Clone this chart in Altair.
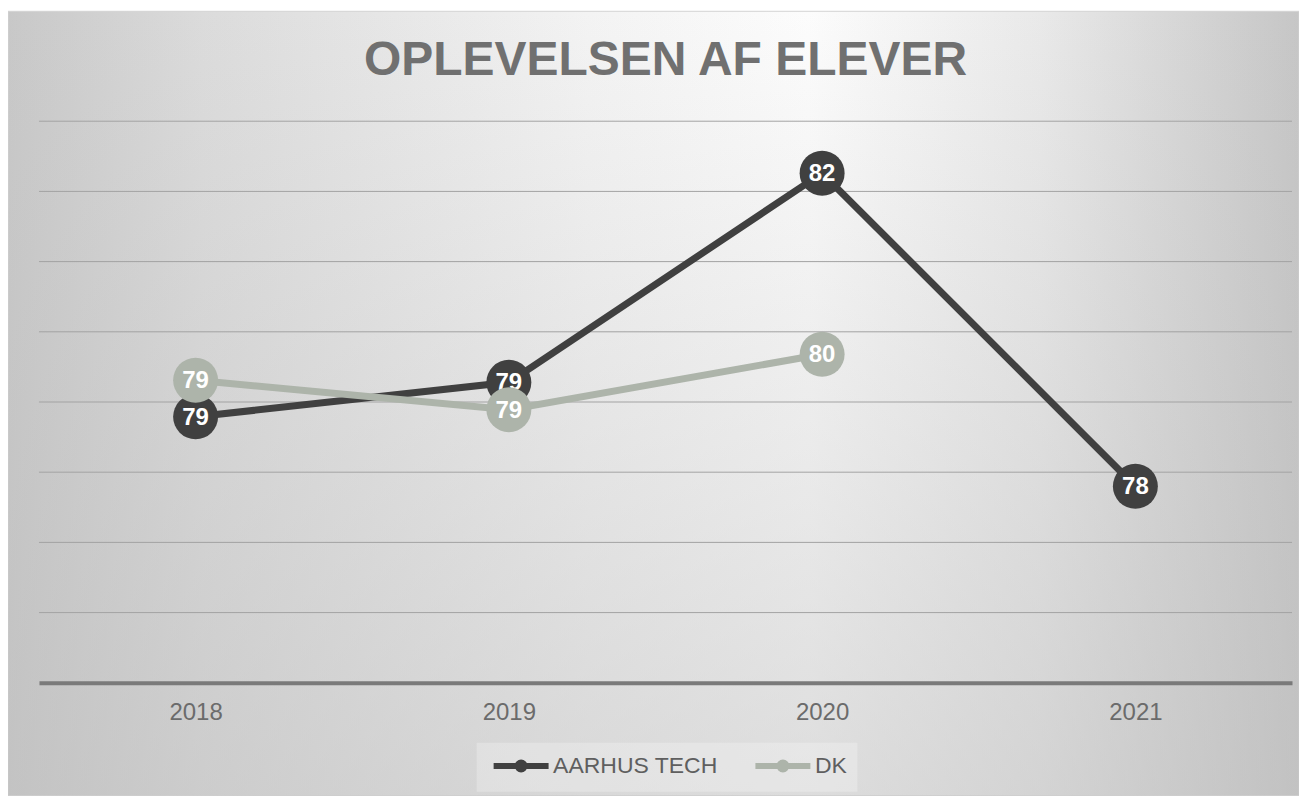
import altair as alt
import pandas as pd

years = ["2018", "2019", "2020", "2021"]
series_names = ["AARHUS TECH", "DK"]
aarhus_values = [78.79, 79.28, 82.26, 77.80]
dk_values = [79.31, 78.89, 79.68, None]
series_colors = ["#404040", "#adb4aa"]
grid_values = [76, 77, 78, 79, 80, 81, 82, 83]

rows = []
for name, vals in zip(series_names, [aarhus_values, dk_values]):
    for yr, v in zip(years, vals):
        if v is not None:
            rows.append({"year": yr, "series": name, "value": v})
df = pd.DataFrame(rows)
grid_df = pd.DataFrame({"g": grid_values})

FONT = "Liberation Sans"

x_enc = alt.X("year:O", scale=alt.Scale(type="point", domain=years, padding=0.5),
              axis=alt.Axis(title=None, labelAngle=0, labelFont=FONT, labelFontSize=24,
                            labelColor="#6b6b6b", ticks=False, tickSize=0, labelPadding=18,
                            domainColor="#7a7a7a", domainWidth=4, grid=False, zindex=1))
y_scale = alt.Scale(domain=[75, 83], nice=False, zero=False)
y_enc = alt.Y("value:Q", scale=y_scale, axis=None)

stroke_scale = alt.Scale(domain=series_names, range=series_colors)

legend_path = "M-2.75,0H2.75M0.35,0A0.35,0.35 0 1 1 -0.35,0A0.35,0.35 0 1 1 0.35,0"

bgdf = pd.DataFrame({"k": [0]})
hgrad = alt.LinearGradient(
    gradient="linear", x1=0, y1=0, x2=1, y2=0,
    stops=[alt.GradientStop(offset=0, color="#c8c8c8"),
           alt.GradientStop(offset=0.15, color="#dbdbdb"),
           alt.GradientStop(offset=0.45, color="#f3f3f3"),
           alt.GradientStop(offset=0.62, color="#fcfcfc"),
           alt.GradientStop(offset=0.8, color="#e9e9e9"),
           alt.GradientStop(offset=1, color="#c6c6c6")])
vgrad = alt.LinearGradient(
    gradient="linear", x1=0, y1=0, x2=0, y2=1,
    stops=[alt.GradientStop(offset=0, color="rgba(190,190,190,0)"),
           alt.GradientStop(offset=1, color="rgba(190,190,190,0.5)")])

bg1 = alt.Chart(bgdf).mark_rect(fill=hgrad, stroke="#d4d4d4", strokeWidth=1).encode(
    x=alt.value(-31), x2=alt.value(1261), y=alt.value(-110), y2=alt.value(675))
bg2 = alt.Chart(bgdf).mark_rect(fill=vgrad).encode(
    x=alt.value(-31), x2=alt.value(1261), y=alt.value(-110), y2=alt.value(675))

grid = alt.Chart(grid_df).mark_rule(color="#a3a3a3", strokeWidth=1).encode(
    y=alt.Y("g:Q", scale=y_scale, axis=None))

layers = [bg1, bg2, grid]
for i, name in enumerate(series_names):
    base = alt.Chart(df).transform_filter(alt.datum.series == name)
    line = base.mark_line(strokeWidth=7).encode(
        x=x_enc, y=y_enc,
        stroke=alt.Stroke("series:N", scale=stroke_scale,
                          legend=alt.Legend(title=None, orient="none", direction="horizontal",
                                            legendX=438, legendY=622,
                                            symbolType=legend_path, symbolSize=400,
                                            symbolOffset=21.5,
                                            symbolStrokeWidth=6, labelFont=FONT,
                                            labelFontSize=23, labelColor="#5f5f5f",
                                            labelOffset=19, columnPadding=25, labelLimit=400,
                                            fillColor="rgba(255,255,255,0.25)", padding=10)))
    pts = base.mark_circle(size=2025, opacity=1).encode(
        x=x_enc, y=y_enc,
        fill=alt.Fill("series:N", scale=stroke_scale, legend=None))
    txt = base.mark_text(font=FONT, fontSize=24, fontWeight="bold", color="white",
                         baseline="middle", align="center", dy=1).encode(
        x=x_enc, y=y_enc, text=alt.Text("value:Q", format=".0f"))
    layers += [line, pts, txt]

chart = alt.layer(*layers).properties(
    width=1254, height=562,
    padding={"left": 31, "top": 113, "right": 7, "bottom": 113},
    autosize=alt.AutoSizeParams(type="none"),
    background="white",
    title=alt.TitleParams("OPLEVELSEN AF ELEVER", font=FONT, fontSize=48, fontWeight="bold",
                          color="#707070", anchor="middle", offset=0, baseline="alphabetic",
                          dy=112),
).configure_view(stroke=None)

chart.save("out.html", embed_options={"renderer": "svg", "actions": False})
